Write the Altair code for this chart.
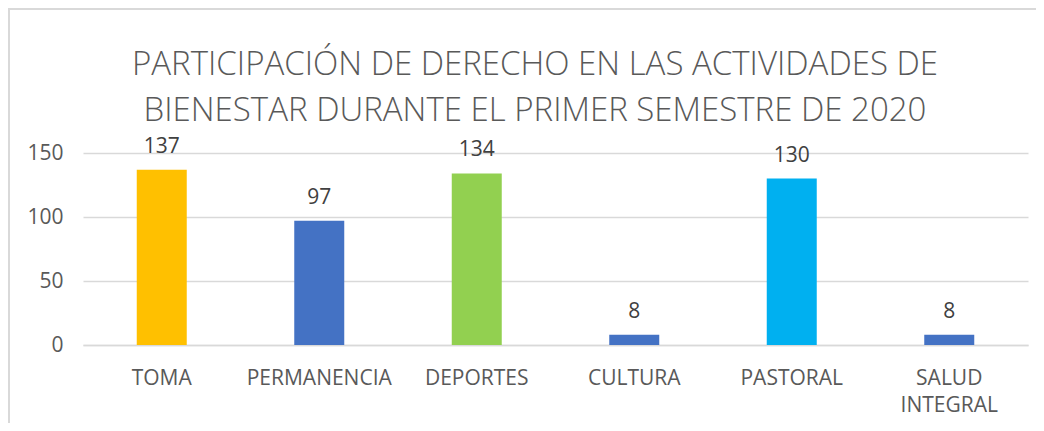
import altair as alt
import pandas as pd

categories = ["TOMA", "PERMANENCIA", "DEPORTES", "CULTURA", "PASTORAL", "SALUD INTEGRAL"]
values = [137, 97, 134, 8, 130, 8]
colors = ["#FFC000", "#4472C4", "#92D050", "#4472C4", "#00B0F0", "#4472C4"]
y_ticks = [0, 50, 100, 150]
title_lines = ["PARTICIPACIÓN DE DERECHO EN LAS ACTIVIDADES DE",
               "BIENESTAR DURANTE EL PRIMER SEMESTRE DE 2020"]

df = pd.DataFrame({"cat": categories, "val": values, "color": colors})

FONT = "Open Sans"
GRAY = "#595959"

x_enc = alt.X("cat:N", sort=None, title=None,
              scale=alt.Scale(paddingInner=0, paddingOuter=0),
              axis=alt.Axis(labelAngle=0, labelFontSize=21, labelColor=GRAY, labelFont=FONT,
                            labelPadding=22, ticks=False, tickSize=0, domainColor="#D9D9D9",
                            domainWidth=1.5, labelLineHeight=27,
                            labelExpr="split(datum.label, ' ')"))
y_enc = alt.Y("val:Q", title=None,
              scale=alt.Scale(domain=[0, 150], nice=False),
              axis=alt.Axis(values=y_ticks, labelFontSize=21, labelColor=GRAY, labelFont=FONT,
                            labelPadding=20, ticks=False, tickSize=0, domain=False,
                            gridColor="#D9D9D9", gridWidth=1.5))

bars = alt.Chart(df).mark_bar(size=50).encode(
    x=x_enc, y=y_enc,
    color=alt.Color("color:N", scale=None),
)

labels = alt.Chart(df).mark_text(dy=-17, baseline="alphabetic", fontSize=21,
                                 font=FONT, color="#404040").encode(
    x=alt.X("cat:N", sort=None),
    y="val:Q",
    text="val:Q",
)

one = alt.Data(values=[{"a": 1}])
left_border = alt.Chart(one).mark_rule(color="#D9D9D9", strokeWidth=2).encode(
    x=alt.value(-74), y=alt.value(-144), y2=alt.value(280))
top_border = alt.Chart(one).mark_rule(color="#D9D9D9", strokeWidth=2).encode(
    x=alt.value(-75), x2=alt.value(970), y=alt.value(-144))
title = alt.Chart(one).mark_text(font=FONT, fontSize=33, fontWeight=300, color=GRAY,
                                 align="center", baseline="alphabetic", lineHeight=46).encode(
    x=alt.value(452), y=alt.value(-78), text=alt.value(title_lines))

chart = alt.layer(bars, labels, left_border, top_border, title).properties(
    width=945, height=192,
    autosize=alt.AutoSizeParams(type="none"),
    padding={"left": 75, "top": 145, "right": 8, "bottom": 78},
).configure_view(stroke=None)

chart.save("out.html", embed_options={"renderer": "svg", "actions": False})
